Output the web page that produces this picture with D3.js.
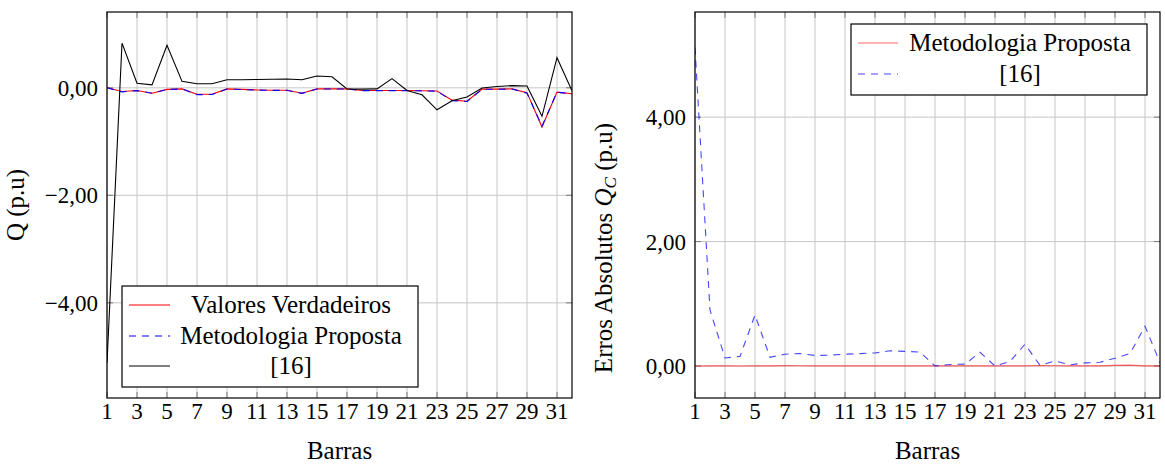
<!DOCTYPE html>
<html>
<head>
<meta charset="utf-8">
<script src="https://cdn.jsdelivr.net/npm/d3@7"></script>
<style>
  html, body { margin: 0; padding: 0; background: #fff; }
  svg { display: block; }
  text { font-family: "Liberation Serif", "DejaVu Serif", serif; fill: #000; }
</style>
</head>
<body>
<svg id="chart" width="1165" height="465"></svg>
<script>
// Bus numbers (Barras)
const bars = [1,2,3,4,5,6,7,8,9,10,11,12,13,14,15,16,17,18,19,20,21,22,23,24,25,26,27,28,29,30,31,32];
const xTickValues = [1,3,5,7,9,11,13,15,17,19,21,23,25,27,29,31];
const yTicksQ = [-4, -2, 0];
const yTicksErr = [0, 2, 4];

// Reactive power Q (p.u) per bus
const qTrue = [0.000,-0.070,-0.050,-0.100,-0.030,-0.020,-0.120,-0.120,-0.020,-0.030,-0.040,-0.045,-0.045,-0.100,-0.020,-0.020,
               -0.020,-0.050,-0.050,-0.050,-0.050,-0.055,-0.060,-0.230,-0.250,-0.025,-0.025,-0.020,-0.090,-0.730,-0.080,-0.110];
const qProposed = [0.000,-0.075,-0.052,-0.100,-0.032,-0.022,-0.127,-0.125,-0.022,-0.032,-0.043,-0.047,-0.047,-0.103,-0.022,-0.022,
               -0.022,-0.053,-0.053,-0.052,-0.053,-0.057,-0.063,-0.238,-0.255,-0.028,-0.028,-0.023,-0.100,-0.715,-0.082,-0.113];
const qRef16 = [-5.120,0.830,0.086,0.055,0.790,0.120,0.075,0.075,0.150,0.150,0.155,0.160,0.165,0.150,0.220,0.205,
               -0.020,-0.025,-0.020,0.170,-0.050,-0.130,-0.410,-0.240,-0.170,-0.005,0.025,0.040,0.035,-0.530,0.560,-0.055];

// Absolute errors of Q_C per bus
const errProposed = [0.000,0.005,0.002,0.000,0.002,0.002,0.007,0.005,0.002,0.002,0.003,0.002,0.002,0.003,0.002,0.002,
               0.002,0.003,0.003,0.002,0.003,0.002,0.003,0.008,0.005,0.003,0.003,0.003,0.010,0.015,0.002,0.003];
const errRef16 = [5.120,0.900,0.130,0.155,0.820,0.140,0.190,0.200,0.170,0.175,0.190,0.200,0.210,0.245,0.235,0.225,
               0.000,0.025,0.030,0.220,0.000,0.075,0.350,0.010,0.080,0.020,0.050,0.060,0.125,0.200,0.640,0.055];

const svg = d3.select("#chart");
const FS = 23;   // tick labels
const FL = 25;   // titles and legend entries
const fmt = v => d3.format(".2f")(v).replace(".", ",").replace("-", "\u2212");

function panel(opts) {
  const x = d3.scaleLinear().domain([1, 32]).range([opts.left, opts.right]);
  const y = d3.scaleLinear().domain(opts.yDomain).range([398, 12]);
  const g = svg.append("g");
  const [x0, x1] = x.range();
  const [y0, y1] = y.range();

  // grid
  g.append("g").selectAll("line").data(xTickValues).join("line")
    .attr("x1", d => x(d)).attr("x2", d => x(d)).attr("y1", y0).attr("y2", y1)
    .attr("stroke", "#c6c6c6").attr("stroke-width", 1);
  g.append("g").selectAll("line").data(opts.yTicks).join("line")
    .attr("x1", x0).attr("x2", x1).attr("y1", d => y(d)).attr("y2", d => y(d))
    .attr("stroke", "#c6c6c6").attr("stroke-width", 1);

  // inner tick marks on all four sides
  const tl = 6;
  const tk = g.append("g").attr("stroke", "#7a7a7a").attr("stroke-width", 1);
  tk.selectAll(".tb").data(xTickValues).join("line")
    .attr("x1", d => x(d)).attr("x2", d => x(d)).attr("y1", y0).attr("y2", y0 - tl);
  tk.selectAll(".tt").data(xTickValues).join("line")
    .attr("x1", d => x(d)).attr("x2", d => x(d)).attr("y1", y1).attr("y2", y1 + tl);
  tk.selectAll(".tlft").data(opts.yTicks).join("line")
    .attr("x1", x0).attr("x2", x0 + tl).attr("y1", d => y(d)).attr("y2", d => y(d));
  tk.selectAll(".trt").data(opts.yTicks).join("line")
    .attr("x1", x1).attr("x2", x1 - tl).attr("y1", d => y(d)).attr("y2", d => y(d));

  // series
  const clipId = "clip" + opts.left;
  svg.append("defs").append("clipPath").attr("id", clipId)
    .append("rect").attr("x", x0).attr("y", y1).attr("width", x1 - x0).attr("height", y0 - y1);
  const lines = g.append("g").attr("clip-path", `url(#${clipId})`);
  const line = d3.line().x((d, i) => x(bars[i])).y(d => y(d));
  opts.series.forEach(s => {
    lines.append("path").datum(s.values)
      .attr("d", line).attr("fill", "none")
      .attr("stroke", s.color).attr("stroke-opacity", s.opacity)
      .attr("stroke-width", 1.1)
      .attr("stroke-dasharray", s.dash || null);
  });

  // frame
  g.append("rect").attr("x", x0).attr("y", y1).attr("width", x1 - x0).attr("height", y0 - y1)
    .attr("fill", "none").attr("stroke", "#000").attr("stroke-width", 1.2);

  // tick labels
  g.append("g").selectAll("text").data(xTickValues).join("text")
    .attr("x", d => x(d)).attr("y", 419).attr("text-anchor", "middle")
    .attr("font-size", FS).text(d => d);
  g.append("g").selectAll("text").data(opts.yTicks).join("text")
    .attr("x", x0 - 9).attr("y", d => y(d) + 8).attr("text-anchor", "end")
    .attr("font-size", FS).text(d => fmt(d));

  // axis titles
  g.append("text").attr("x", (x0 + x1) / 2).attr("y", 459).attr("text-anchor", "middle")
    .attr("font-size", FL).text("Barras");
  const yl = g.append("text")
    .attr("transform", `translate(${opts.ylabelX},${opts.ylabelY}) rotate(-90)`)
    .attr("text-anchor", "middle").attr("font-size", FL);
  opts.ylabel(yl);

  // legend
  const L = opts.legend;
  const lg = g.append("g");
  lg.append("rect").attr("x", L.x).attr("y", L.y).attr("width", L.w).attr("height", L.h)
    .attr("fill", "#fff").attr("stroke", "#000").attr("stroke-width", 1.2);
  L.items.forEach((it, i) => {
    const cy = L.rowY[i];
    lg.append("line").attr("x1", L.sx0).attr("x2", L.sx1).attr("y1", cy).attr("y2", cy)
      .attr("stroke", it.color).attr("stroke-opacity", it.opacity).attr("stroke-width", 1.1)
      .attr("stroke-dasharray", it.dash || null);
    lg.append("text").attr("x", L.tx).attr("y", cy + 8).attr("text-anchor", "middle")
      .attr("font-size", FL).text(it.label);
  });
}

// Left: Q values per bus
const leftSeries = [
  { label: "Valores Verdadeiros", values: qTrue, color: "#ff0000", opacity: 1 },
  { label: "Metodologia Proposta", values: qProposed, color: "#0000ff", opacity: 1, dash: "7,6" },
  { label: "[16]", values: qRef16, color: "#000000", opacity: 1 }
];
panel({
  left: 107, right: 572,
  yDomain: [-5.77, 1.41],
  yTicks: yTicksQ,
  series: leftSeries,
  ylabelX: 24, ylabelY: 205,
  ylabel: t => t.text("Q (p.u)"),
  legend: { x: 122, y: 286, w: 296, h: 101, rowY: [305, 336, 366], sx0: 129, sx1: 170, tx: 291,
            items: leftSeries }
});

// Right: absolute errors of Q_C
const rightSeries = [
  { label: "Metodologia Proposta", values: errProposed, color: "#ff0000", opacity: 0.6 },
  { label: "[16]", values: errRef16, color: "#0000ff", opacity: 0.72, dash: "7,6" }
];
panel({
  left: 695, right: 1160,
  yDomain: [-0.514, 5.69],
  yTicks: yTicksErr,
  series: rightSeries,
  ylabelX: 612, ylabelY: 248,
  ylabel: t => {
    t.append("tspan").text("Erros Absolutos ");
    t.append("tspan").attr("font-style", "italic").text("Q");
    t.append("tspan").attr("font-style", "italic").attr("font-size", 17).attr("dy", 4).text("C");
    t.append("tspan").attr("dy", -4).text(" (p.u)");
  },
  legend: { x: 851, y: 24, w: 296, h: 71, rowY: [43, 74], sx0: 858, sx1: 898, tx: 1020,
            items: rightSeries }
});
</script>
</body>
</html>
